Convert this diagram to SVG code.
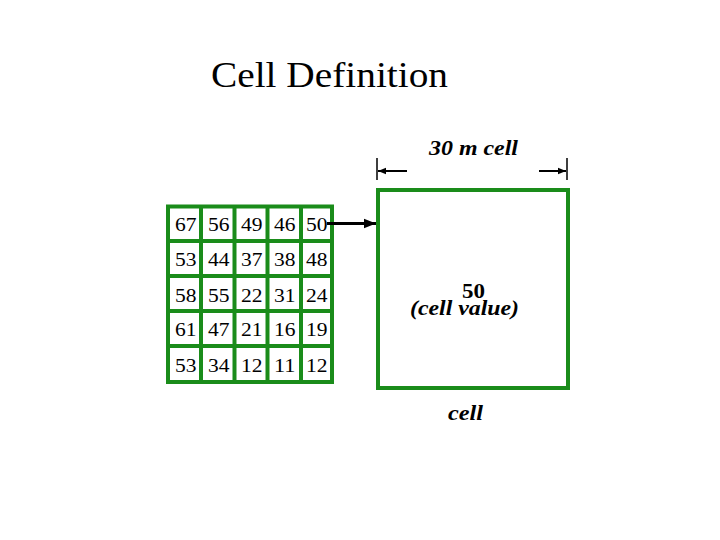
<svg xmlns="http://www.w3.org/2000/svg" width="720" height="540" viewBox="0 0 720 540">
<defs>
<style>
.g{fill:none;stroke:#1a8c1a;stroke-width:4}
.n{font-family:"Liberation Serif",serif;font-size:19px;fill:#000}
.bi{font-family:"Liberation Serif",serif;font-size:21px;font-weight:bold;font-style:italic;fill:#000}
.k{stroke:#000;fill:none}
</style>
<marker id="ah" viewBox="0 0 10 10" refX="10" refY="5" markerWidth="4" markerHeight="4" orient="auto" markerUnits="strokeWidth">
<path d="M0,1 L10,5 L0,9 z" fill="#000"/>
</marker>
<marker id="ah2" viewBox="0 0 10 10" refX="10" refY="5" markerWidth="4.5" markerHeight="4" orient="auto" markerUnits="strokeWidth">
<path d="M0,1 L10,5 L0,9 z" fill="#000"/>
</marker>
</defs>
<rect width="720" height="540" fill="#fff"/>
<text x="211" y="87" font-family="Liberation Serif,serif" font-size="36" textLength="237" lengthAdjust="spacingAndGlyphs">Cell Definition</text>
<g id="grid">
<rect class="g" x="168" y="206.5" width="164" height="175.5"/>
<path class="g" d="M201,206.5V382M234.5,206.5V382M267.5,206.5V382M301,206.5V382M168,241H332M168,276H332M168,311H332M168,346H332"/>
<g class="n">
<text x="175" y="231" textLength="21.5" lengthAdjust="spacingAndGlyphs">67</text><text x="208" y="231" textLength="21.5" lengthAdjust="spacingAndGlyphs">56</text><text x="241" y="231" textLength="21.5" lengthAdjust="spacingAndGlyphs">49</text><text x="274" y="231" textLength="21.5" lengthAdjust="spacingAndGlyphs">46</text><text x="306" y="231" textLength="21.5" lengthAdjust="spacingAndGlyphs">50</text>
<text x="175" y="266" textLength="21.5" lengthAdjust="spacingAndGlyphs">53</text><text x="208" y="266" textLength="21.5" lengthAdjust="spacingAndGlyphs">44</text><text x="241" y="266" textLength="21.5" lengthAdjust="spacingAndGlyphs">37</text><text x="274" y="266" textLength="21.5" lengthAdjust="spacingAndGlyphs">38</text><text x="306" y="266" textLength="21.5" lengthAdjust="spacingAndGlyphs">48</text>
<text x="175" y="302" textLength="21.5" lengthAdjust="spacingAndGlyphs">58</text><text x="208" y="302" textLength="21.5" lengthAdjust="spacingAndGlyphs">55</text><text x="241" y="302" textLength="21.5" lengthAdjust="spacingAndGlyphs">22</text><text x="274" y="302" textLength="21.5" lengthAdjust="spacingAndGlyphs">31</text><text x="306" y="302" textLength="21.5" lengthAdjust="spacingAndGlyphs">24</text>
<text x="175" y="336" textLength="21.5" lengthAdjust="spacingAndGlyphs">61</text><text x="208" y="336" textLength="21.5" lengthAdjust="spacingAndGlyphs">47</text><text x="241" y="336" textLength="21.5" lengthAdjust="spacingAndGlyphs">21</text><text x="274" y="336" textLength="21.5" lengthAdjust="spacingAndGlyphs">16</text><text x="306" y="336" textLength="21.5" lengthAdjust="spacingAndGlyphs">19</text>
<text x="175" y="372" textLength="21.5" lengthAdjust="spacingAndGlyphs">53</text><text x="208" y="372" textLength="21.5" lengthAdjust="spacingAndGlyphs">34</text><text x="241" y="372" textLength="21.5" lengthAdjust="spacingAndGlyphs">12</text><text x="274" y="372" textLength="21.5" lengthAdjust="spacingAndGlyphs">11</text><text x="306" y="372" textLength="21.5" lengthAdjust="spacingAndGlyphs">12</text>
</g>
</g>
<g id="cell">
<rect class="g" x="378" y="190" width="190" height="198"/>
<text x="462" y="298" font-family="Liberation Serif,serif" font-size="20" font-weight="bold" textLength="23" lengthAdjust="spacingAndGlyphs">50</text>
<text class="bi" x="410" y="315" textLength="109" lengthAdjust="spacingAndGlyphs">(cell value)</text>
<text class="bi" x="448" y="420" textLength="35" lengthAdjust="spacingAndGlyphs">cell</text>
</g>
<g id="dimension">
<text class="bi" x="429" y="155" textLength="89" lengthAdjust="spacingAndGlyphs">30 m cell</text>
<path class="k" stroke-width="1.5" d="M377,158V180M567,158V180"/>
</g>
<g id="connectors">
<line class="k" stroke-width="3" x1="327" y1="223.5" x2="376" y2="223.5" marker-end="url(#ah)"/>
<line class="k" stroke-width="2" x1="407" y1="171" x2="378" y2="171" marker-end="url(#ah2)"/>
<line class="k" stroke-width="2" x1="539" y1="171" x2="566" y2="171" marker-end="url(#ah2)"/>
</g>
</svg>
